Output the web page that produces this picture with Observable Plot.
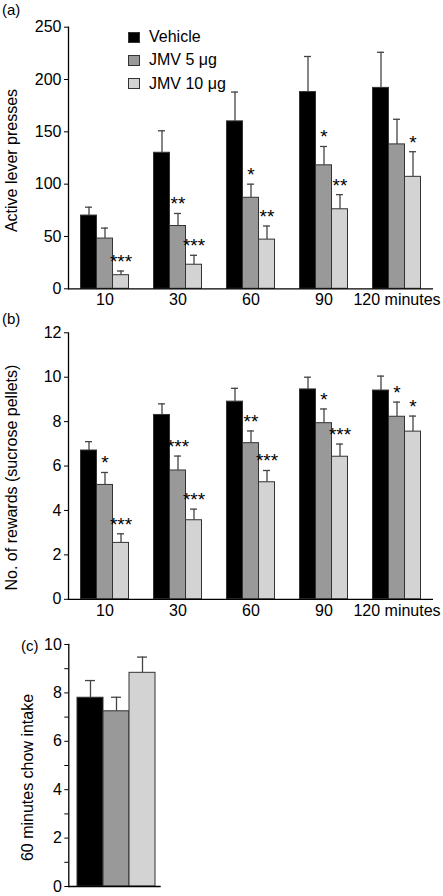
<!DOCTYPE html>
<html>
<head>
<meta charset="utf-8">
<script src="https://cdn.jsdelivr.net/npm/d3@7"></script>
<script src="https://cdn.jsdelivr.net/npm/@observablehq/plot@0.6"></script>
<style>
  html, body { margin: 0; padding: 0; background: #fff; }
  body { font-family: "Liberation Sans", Arial, Helvetica, sans-serif; color: #000; }
  #wrap { position: relative; width: 443px; height: 896px; overflow: hidden; }
  .panel { position: absolute; left: 0; }
  .tag { position: absolute; font-size: 15px; line-height: 1; }
  #legend { position: absolute; left: 128px; top: 25.5px; font-size: 16px; }
  #legend .row { display: flex; align-items: center; height: 23.3px; }
  #legend .sw { width: 12px; height: 11px; border: 1px solid #333; box-sizing: border-box; margin-right: 9px; }
</style>
</head>
<body>
<div id="wrap">
  <div class="panel" id="pa" style="top:0px"></div>
  <div class="panel" id="pb" style="top:312px"></div>
  <div class="panel" id="pc" style="top:624px"></div>
  <div class="tag" style="left:2px;top:2px">(a)</div>
  <div class="tag" style="left:2px;top:311px">(b)</div>
  <div class="tag" style="left:21px;top:638px">(c)</div>
  <div id="legend"></div>
</div>
<script>
// ---------- data ----------
const groups = ["10", "30", "60", "90", "120"];
const groupLabels = ["10", "30", "60", "90", "120 minutes"];
const series = ["Vehicle", "JMV 5 μg", "JMV 10 μg"];
const colors = ["#000000", "#999999", "#d3d3d3"];

// (a) Active lever presses
const aVehicle = [70, 130, 160, 188, 192];
const aVehicleSem = [8, 21, 28, 34, 34];
const aJmv5 = [48, 60, 87, 118, 138];
const aJmv5Sem = [10, 12, 13, 18, 24];
const aJmv10 = [13, 23, 47, 76, 107];
const aJmv10Sem = [4, 9, 13, 14, 24];
const aVehicleSig = ["", "", "", "", ""];
const aJmv5Sig = ["", "**", "*", "*", ""];
const aJmv10Sig = ["***", "***", "**", "**", "*"];
const aTicks = [0, 50, 100, 150, 200, 250];

// (b) No. of rewards
const bVehicle = [6.7, 8.3, 8.9, 9.45, 9.4];
const bVehicleSem = [0.4, 0.5, 0.6, 0.55, 0.65];
const bJmv5 = [5.15, 5.8, 7.03, 7.93, 8.22];
const bJmv5Sem = [0.56, 0.65, 0.55, 0.64, 0.66];
const bJmv10 = [2.54, 3.56, 5.27, 6.42, 7.55];
const bJmv10Sem = [0.41, 0.5, 0.53, 0.57, 0.7];
const bVehicleSig = ["", "", "", "", ""];
const bJmv5Sig = ["*", "***", "**", "*", "*"];
const bJmv10Sig = ["***", "***", "***", "***", "*"];
const bTicks = [0, 2, 4, 6, 8, 10, 12];

// (c) 60 minutes chow intake
const cValues = [7.8, 7.24, 8.83];
const cSem = [0.71, 0.58, 0.65];
const cTicks = [0, 2, 4, 6, 8, 10];
const cMinorTicks = [1, 3, 5, 7, 9];

// ---------- helpers ----------
function rowsFor(valueArrays, semArrays, sigArrays) {
  const rows = [];
  series.forEach((s, si) => {
    groups.forEach((g, gi) => {
      rows.push({group: g, series: s, value: valueArrays[si][gi], sem: semArrays[si][gi], sig: sigArrays[si][gi]});
    });
  });
  return rows;
}
const FONT = '"Liberation Sans", Arial, Helvetica, sans-serif';
const errTop = d => d.value + d.sem;

function groupedPanel(rows, yDomain, yTicks, yLabel, labelShift, height, marginTop, marginBottom) {
  return Plot.plot({
    width: 443, height, marginLeft: 66.5, marginRight: 9.5, marginTop, marginBottom,
    style: {fontFamily: FONT, fontSize: "16px", color: "#000", background: "#fff", overflow: "visible"},
    fx: {domain: groups, padding: 0, label: null},
    x: {domain: series, paddingInner: 0, paddingOuter: 0.68, axis: null},
    y: {domain: yDomain},
    color: {domain: series, range: colors},
    marks: [
      Plot.barY(rows, {fx: "group", x: "series", y: "value", fill: "series", stroke: "#333", strokeWidth: 1}),
      Plot.ruleX(rows, {fx: "group", x: "series", y1: "value", y2: errTop, stroke: "#444", strokeWidth: 1.3}),
      Plot.tickY(rows, {fx: "group", x: "series", y: errTop, stroke: "#444", strokeWidth: 1.3, insetLeft: 4.5, insetRight: 4.5}),
      Plot.text(rows, {fx: "group", x: "series", y: errTop, text: "sig", lineAnchor: "bottom", fontSize: 19, dy: -3}),
      Plot.ruleY([0], {stroke: "#000", strokeWidth: 1.3}),
      Plot.frame({anchor: "left", facetAnchor: "left", stroke: "#000", strokeWidth: 1.3}),
      Plot.axisY({ticks: yTicks, tickSize: 4, tickPadding: 3, label: null, fontSize: 16}),
      Plot.text([yLabel], {frameAnchor: "left", facetAnchor: "left", textAnchor: "middle", lineAnchor: "middle",
        rotate: -90, dx: -57, dy: labelShift, fontSize: 16, fill: "#000"}),
      Plot.axisFx({anchor: "bottom", tickSize: 0, tickPadding: 5, label: null, fontSize: 16,
        tickFormat: d => groupLabels[groups.indexOf(d)]})
    ]
  });
}

// ---------- panel (a) ----------
const rowsA = rowsFor([aVehicle, aJmv5, aJmv10], [aVehicleSem, aJmv5Sem, aJmv10Sem], [aVehicleSig, aJmv5Sig, aJmv10Sig]);
document.getElementById("pa").append(groupedPanel(rowsA, [0, 250], aTicks, "Active lever presses", 2.5, 312, 26.7, 23.7));

// ---------- panel (b) ----------
const rowsB = rowsFor([bVehicle, bJmv5, bJmv10], [bVehicleSem, bJmv5Sem, bJmv10Sem], [bVehicleSig, bJmv5Sig, bJmv10Sig]);
document.getElementById("pb").append(groupedPanel(rowsB, [0, 12], bTicks, "No. of rewards (sucrose pellets)", 11.5, 312, 20.3, 25.2));

// ---------- panel (c) ----------
const rowsC = series.map((s, i) => ({series: s, value: cValues[i], sem: cSem[i]}));
document.getElementById("pc").append(Plot.plot({
  width: 443, height: 272, marginLeft: 68.3, marginRight: 282.3, marginTop: 20, marginBottom: 10,
  style: {fontFamily: FONT, fontSize: "16px", color: "#000", background: "#fff", overflow: "visible"},
  x: {domain: series, paddingInner: 0, paddingOuter: 0.25, align: 0.63, axis: null},
  y: {domain: [0, 10]},
  color: {domain: series, range: colors},
  marks: [
    Plot.barY(rowsC, {x: "series", y: "value", fill: "series", stroke: "#333", strokeWidth: 1}),
    Plot.ruleX(rowsC, {x: "series", y1: "value", y2: errTop, stroke: "#444", strokeWidth: 1.3}),
    Plot.tickY(rowsC, {x: "series", y: errTop, stroke: "#444", strokeWidth: 1.3, insetLeft: 8, insetRight: 8}),
    Plot.ruleY([0], {stroke: "#000", strokeWidth: 1.3}),
    Plot.frame({anchor: "left", stroke: "#000", strokeWidth: 1.3}),
    Plot.axisY({ticks: cMinorTicks, tickSize: 4, tickFormat: () => "", label: null}),
    Plot.axisY({ticks: cTicks, tickSize: 4, tickPadding: 3, label: null, fontSize: 16}),
    Plot.text(["60 minutes chow intake"], {frameAnchor: "left", textAnchor: "middle", lineAnchor: "middle",
      rotate: -90, dx: -41, dy: 12, fontSize: 16, fill: "#000"})
  ]
}));

// ---------- legend (a) ----------
const legend = document.getElementById("legend");
series.forEach((s, i) => {
  const row = document.createElement("div");
  row.className = "row";
  const sw = document.createElement("div");
  sw.className = "sw";
  sw.style.background = colors[i];
  const tx = document.createElement("span");
  tx.textContent = s;
  row.append(sw, tx);
  legend.append(row);
});
</script>
</body>
</html>
